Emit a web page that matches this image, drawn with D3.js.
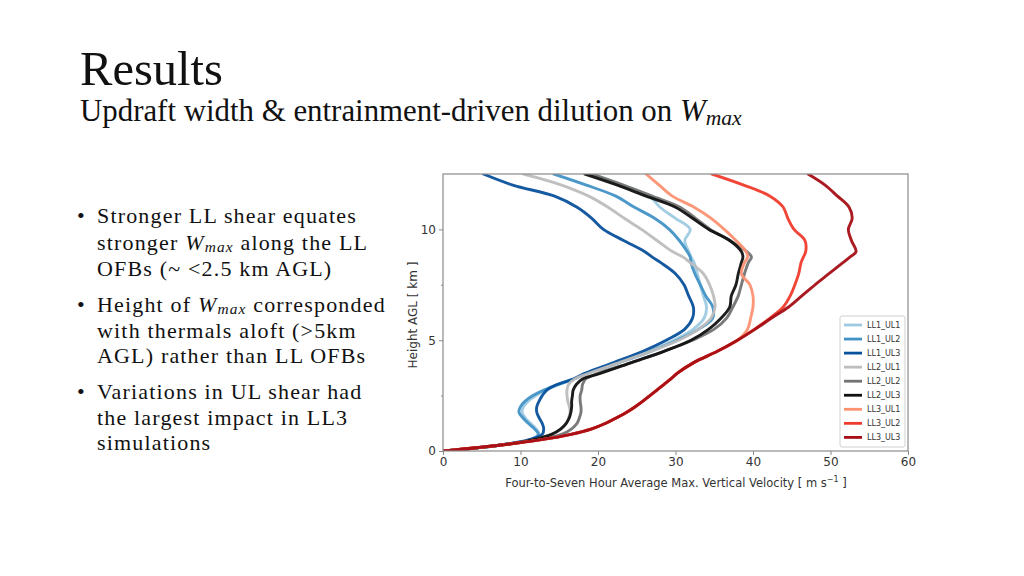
<!DOCTYPE html>
<html>
<head>
<meta charset="utf-8">
<script src="https://cdn.jsdelivr.net/npm/d3@7"></script>
<style>
  html, body { margin: 0; padding: 0; background: #fff; }
  svg { display: block; }
</style>
</head>
<body>
<svg id="slide" width="1024" height="576"></svg>
<script>
// ---------------- DATA ----------------
const heights = [0, 0.25, 0.5, 0.75, 1, 1.25, 1.5, 1.75, 2, 2.25, 2.5, 2.75, 3, 3.25, 3.5,
  4, 4.5, 5, 5.5, 6, 6.5, 7, 7.5, 8, 8.5, 8.75, 9, 9.5, 10, 10.5, 11, 11.5, 12, 12.5];

const seriesNames = ["LL1_UL1", "LL1_UL2", "LL1_UL3", "LL2_UL1", "LL2_UL2", "LL2_UL3", "LL3_UL1", "LL3_UL2", "LL3_UL3"];
const seriesColors = ["#9ecae1", "#4292c6", "#08519c", "#bdbdbd", "#737373", "#111111", "#fc9272", "#ef3b2c", "#a50f15"];

const LL1_UL1 = [0, 7.0, 11.3, 12.4, 12.0, 11.3, 10.6, 10.2, 10.4, 11.0, 12.0, 13.2, 15.0, 16.9, 18.5,
  22.6, 26.5, 29.8, 32.3, 33.7, 34.0, 33.6, 33.2, 32.8, 32.4, 32.0, 31.7, 31.2, 31.9, 30.0, 28.0, 26.6, 23.0, 19.3];
const LL1_UL2 = [0, 7.0, 11.2, 12.3, 11.8, 11.0, 10.3, 9.8, 10.0, 10.6, 11.6, 13.0, 14.8, 16.9, 18.5,
  22.8, 26.8, 30.2, 33.0, 34.8, 34.8, 33.9, 33.2, 32.5, 32.0, 31.9, 31.5, 30.5, 29.2, 27.3, 24.7, 22.3, 18.5, 14.3];
const LL1_UL3 = [0, 7.0, 11.0, 12.8, 13.0, 12.8, 12.4, 12.1, 12.1, 12.4, 12.8, 13.4, 14.7, 16.8, 18.3,
  22.1, 25.8, 28.8, 31.2, 32.2, 32.3, 31.7, 31.1, 30.0, 28.1, 27.0, 26.0, 23.3, 20.7, 19.2, 17.3, 14.4, 9.0, 5.2];
const LL2_UL1 = [0, 7.0, 11.6, 14.0, 15.3, 15.9, 16.2, 16.4, 16.3, 16.1, 16.0, 16.0, 16.2, 17.0, 18.8,
  22.8, 26.8, 30.4, 33.0, 34.6, 35.1, 34.9, 34.4, 33.6, 31.9, 31.0, 29.6, 27.6, 25.6, 23.4, 21.3, 18.8, 15.3, 10.4];
const LL2_UL2 = [0, 7.0, 12.0, 15.3, 16.6, 17.3, 17.6, 17.8, 17.8, 17.7, 17.7, 17.9, 18.0, 18.4, 20.0,
  24.4, 28.5, 32.2, 35.0, 36.6, 37.4, 38.1, 38.5, 38.9, 39.4, 39.8, 39.2, 37.0, 34.5, 32.6, 30.6, 27.0, 23.3, 19.2];
const LL2_UL3 = [0, 7.0, 11.5, 14.0, 15.2, 15.9, 16.3, 16.5, 16.6, 16.6, 16.7, 16.8, 17.2, 18.0, 20.3,
  24.4, 28.5, 32.0, 34.3, 35.9, 37.0, 37.2, 37.8, 38.1, 38.5, 38.7, 38.5, 37.0, 34.3, 32.2, 30.0, 26.2, 22.5, 18.3];
const LL3_UL1 = [0, 7.0, 12.5, 16.5, 19.2, 21.0, 22.4, 23.7, 24.8, 25.8, 26.7, 27.6, 28.5, 29.4, 30.2,
  32.4, 35.4, 38.0, 39.3, 39.7, 40.0, 40.0, 39.6, 38.5, 38.9, 39.3, 39.1, 37.8, 36.3, 34.6, 32.4, 29.6, 27.9, 26.2];
const LL3_UL2 = [0, 7.0, 12.5, 16.5, 19.2, 21.0, 22.4, 23.7, 24.8, 25.8, 26.7, 27.6, 28.5, 29.4, 30.2,
  32.4, 35.4, 38.0, 40.2, 42.2, 43.9, 44.8, 45.4, 45.9, 46.2, 46.5, 46.8, 46.7, 45.3, 44.5, 43.9, 42.2, 38.8, 34.7];
const LL3_UL3 = [0, 7.0, 12.5, 16.5, 19.2, 21.0, 22.4, 23.7, 24.8, 25.8, 26.7, 27.6, 28.5, 29.4, 30.2,
  32.4, 35.4, 38.0, 40.3, 42.4, 44.6, 46.3, 48.0, 49.8, 51.6, 52.5, 53.3, 52.7, 52.3, 52.8, 52.4, 50.9, 49.3, 47.1];

const seriesValues = [LL1_UL1, LL1_UL2, LL1_UL3, LL2_UL1, LL2_UL2, LL2_UL3, LL3_UL1, LL3_UL2, LL3_UL3];

const xTicks = [0, 10, 20, 30, 40, 50, 60];
const yTicks = [0, 5, 10];
const yMinorTicks = [2.5, 7.5];

const titleText = "Results";
const subtitleParts = [{t: "Updraft width & entrainment-driven dilution on "}, {t: "W", i: true}, {t: "max", i: true, sub: true}];
const bulletLines = [
  [{t: "Stronger LL shear equates"}],
  [{t: "stronger "}, {t: "W", i: true}, {t: "max", i: true, sub: true}, {t: " along the LL"}],
  [{t: "OFBs (~ <2.5 km AGL)"}],
  [{t: "Height of "}, {t: "W", i: true}, {t: "max", i: true, sub: true}, {t: " corresponded"}],
  [{t: "with thermals aloft (>5km"}],
  [{t: "AGL) rather than LL OFBs"}],
  [{t: "Variations in UL shear had"}],
  [{t: "the largest impact in LL3"}],
  [{t: "simulations"}]
];
const bulletStarts = [0, 3, 6];

// ---------------- LAYOUT ----------------
const svg = d3.select("#slide");
const SERIF = "'Liberation Serif', 'Times New Roman', serif";
const SANS = "'DejaVu Sans', sans-serif";

function richText(g, x, y, parts, fs, family, fill, ls, subShift) {
  const t = g.append("text").attr("x", x).attr("y", y)
    .attr("font-family", family).attr("font-size", fs).attr("fill", fill || "#111");
  if (ls) t.attr("letter-spacing", ls);
  const sh = fs * (subShift == null ? 0.14 : subShift);
  let shifted = 0;
  parts.forEach(p => {
    const ts = t.append("tspan").text(p.t);
    if (p.i) ts.attr("font-style", "italic");
    if (p.sub) { ts.attr("font-size", fs * 0.7).attr("dy", sh); shifted = sh; }
    else if (shifted) { ts.attr("dy", -shifted); shifted = 0; }
  });
  return t;
}
function measure(parts, family, fs) {
  const t = richText(svg, -9999, -9999, parts, fs, family);
  const w = t.node().getComputedTextLength();
  t.remove();
  return w;
}
function fitSize(parts, family, targetW, base) {
  return base * targetW / measure(parts, family, base);
}

// Title & subtitle
const titleFs = fitSize([{t: titleText}], SERIF, 143, 48);
richText(svg, 80, 85, [{t: titleText}], titleFs, SERIF, "#111");
const subFs = fitSize(subtitleParts, SERIF, 662, 26);
richText(svg, 80, 121, subtitleParts, subFs, SERIF, "#111");

// Bullets
const bulletFs = 22;
const line1 = bulletLines[0];
const line1Chars = line1.map(p => p.t).join("").length;
const bulletLS = Math.max(0, (260 - measure(line1, SERIF, bulletFs)) / line1Chars);
const baselines = [223, 249.5, 276, 312, 337.5, 363, 399, 424.5, 450];
const textG = svg.append("g");
bulletLines.forEach((parts, i) => richText(textG, 97, baselines[i], parts, bulletFs, SERIF, "#111", bulletLS, 0.11));
bulletStarts.forEach(i => {
  textG.append("text").attr("x", 77).attr("y", baselines[i]).attr("font-family", SERIF)
    .attr("font-size", bulletFs).attr("fill", "#111").text("•");
});

// ---------------- CHART ----------------
const X0 = 443, X1 = 908, YT = 174, YB = 451;
const x = d3.scaleLinear().domain([0, 60]).range([X0, X1]);
const y = d3.scaleLinear().domain([0, 12.5]).range([YB, YT]);
const chart = svg.append("g");

chart.append("clipPath").attr("id", "plotclip").append("rect")
  .attr("x", X0).attr("y", YT).attr("width", X1 - X0).attr("height", YB - YT);

const line = d3.line()
  .x(d => x(d[1])).y(d => y(d[0]))
  .curve(d3.curveCatmullRom.alpha(0.5));

const linesG = chart.append("g").attr("clip-path", "url(#plotclip)");
seriesNames.forEach((name, si) => {
  const pts = heights.map((h, k) => [h, seriesValues[si][k]]);
  linesG.append("path").datum(pts)
    .attr("d", line)
    .attr("fill", "none")
    .attr("stroke", seriesColors[si])
    .attr("stroke-width", 2.9)
    .attr("stroke-linejoin", "round")
    .attr("stroke-linecap", "round")
    .attr("opacity", 0.95);
});

// axes
const axisColor = "#8a8a8a";
const xAxis = chart.append("g").attr("transform", `translate(0,${YB})`)
  .call(d3.axisBottom(x).tickValues(xTicks).tickSize(4).tickPadding(2).tickFormat(d3.format("d")));
const yAxis = chart.append("g").attr("transform", `translate(${X0},0)`)
  .call(d3.axisLeft(y).tickValues(yTicks).tickSize(4).tickPadding(3).tickFormat(d3.format("d")));
const yMinor = chart.append("g").attr("transform", `translate(${X0},0)`)
  .call(d3.axisLeft(y).tickValues(yMinorTicks).tickSize(2).tickFormat(""));
[xAxis, yAxis, yMinor].forEach(a => {
  a.select(".domain").remove();
  a.selectAll(".tick line").attr("stroke", axisColor);
  a.selectAll("text").attr("font-family", SANS).attr("font-size", 12).attr("fill", "#333");
});

chart.append("rect").attr("x", X0).attr("y", YT).attr("width", X1 - X0).attr("height", YB - YT)
  .attr("fill", "none").attr("stroke", axisColor).attr("stroke-width", 1.2);

// axis labels
chart.append("text")
  .attr("transform", `translate(417,315) rotate(-90)`)
  .attr("text-anchor", "middle")
  .attr("font-family", SANS).attr("font-size", 12).attr("fill", "#333")
  .text("Height AGL [ km ]");

const xlab = chart.append("text").attr("x", 676).attr("y", 487)
  .attr("text-anchor", "middle").attr("font-family", SANS).attr("font-size", 11.5).attr("fill", "#333");
xlab.append("tspan").text("Four-to-Seven Hour Average Max. Vertical Velocity [ m s");
xlab.append("tspan").attr("font-size", 8).attr("dy", -5).text("−1");
xlab.append("tspan").attr("dy", 5).text(" ]");

// legend
const LX = 840, LY = 316, LW = 65, LH = 131;
const legend = chart.append("g");
legend.append("rect").attr("x", LX).attr("y", LY).attr("width", LW).attr("height", LH)
  .attr("rx", 2).attr("fill", "#fff").attr("fill-opacity", 0.85)
  .attr("stroke", "#d0d0d0").attr("stroke-width", 1);
seriesNames.forEach((name, i) => {
  const cy = LY + 9 + i * 14.05;
  legend.append("line").attr("x1", LX + 4).attr("x2", LX + 22).attr("y1", cy).attr("y2", cy)
    .attr("stroke", seriesColors[i]).attr("stroke-width", 2.8);
  legend.append("text").attr("x", LX + 27).attr("y", cy).attr("dy", "0.35em")
    .attr("font-family", SANS).attr("font-size", 8).attr("fill", "#333").text(name);
});
</script>
</body>
</html>
